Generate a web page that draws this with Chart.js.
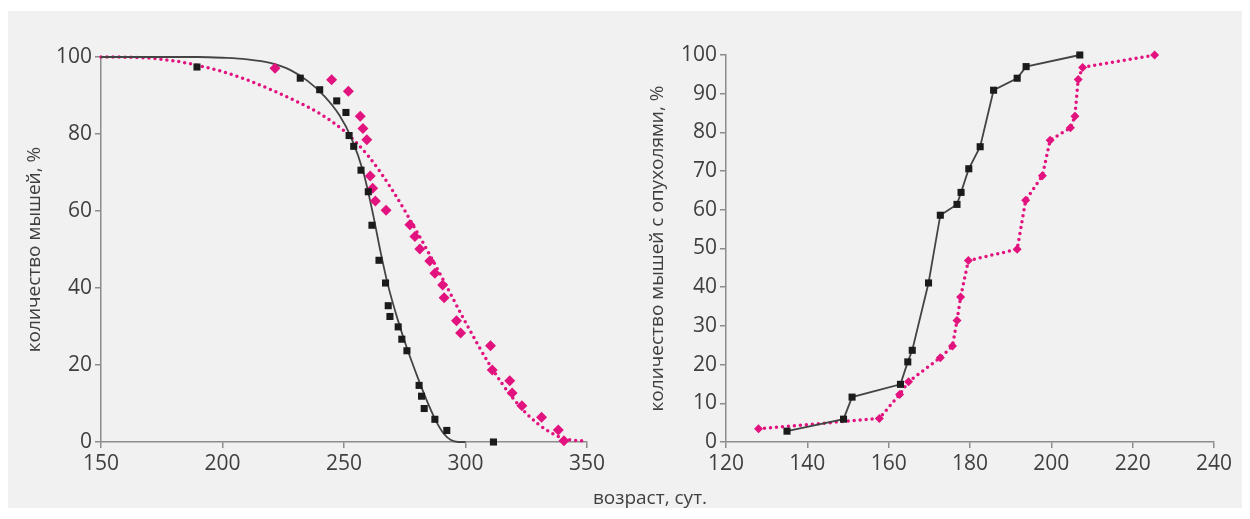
<!DOCTYPE html>
<html lang="ru">
<head>
<meta charset="utf-8">
<title>Выживаемость мышей и возникновение опухолей</title>
<script src="https://cdn.jsdelivr.net/npm/chart.js@4.4.1/dist/chart.umd.min.js"></script>
<style>
  html, body { margin: 0; padding: 0; background: #fff; width: 1250px; height: 519px; overflow: hidden; }
  #panel { position: absolute; left: 8px; top: 11px; width: 1234px; height: 497px; background: #f1f1f1; }
  .box { position: absolute; top: 0; height: 519px; }
  #leftBox { left: 0; width: 620px; }
  #rightBox { left: 620px; width: 630px; }
  #xTitle { position: absolute; left: 450px; width: 400px; top: 485px; text-align: center;
            font: 19px 'Open Sans', sans-serif; line-height: 24px; color: #404040; }
</style>
</head>
<body>
<div id="panel"></div>
<div class="box" id="leftBox"><canvas id="survival"></canvas></div>
<div class="box" id="rightBox"><canvas id="tumors"></canvas></div>
<div id="xTitle">возраст, сут.</div>

<script>
// survival: observed points (black = control, pink = treated)
const ctrlAge  = [189.5, 232, 240, 247, 250.8, 252.1, 254, 257, 260, 261.5, 264.4, 267.1, 268.2, 268.9, 272.3, 273.8, 275.9, 280.9, 281.9, 283, 287.4, 292.3, 311.5];
const ctrlSurv = [97.4, 94.5, 91.5, 88.6, 85.6, 79.6, 76.8, 70.6, 65.0, 56.3, 47.2, 41.3, 35.4, 32.6, 29.9, 26.7, 23.7, 14.7, 11.9, 8.7, 5.9, 3.0, 0];
const trtAge   = [221.6, 244.9, 251.8, 256.7, 257.8, 259.4, 260.8, 261.8, 262.9, 267.3, 277.1, 279.2, 281.2, 285.3, 287.4, 290.6, 291.2, 296.3, 298.0, 310.3, 311.0, 318.2, 319.2, 323.2, 331.3, 338.2, 340.5];
const trtSurv  = [97.1, 94.1, 91.1, 84.6, 81.4, 78.5, 69.1, 65.9, 62.6, 60.2, 56.4, 53.4, 50.1, 47.0, 43.8, 40.8, 37.5, 31.5, 28.3, 25.0, 18.7, 15.9, 12.7, 9.4, 6.4, 3.1, 0.3];

// survival: fitted curves
const ctrlFitAge  = [150, 190, 200, 210, 220, 228, 235, 242, 248, 253, 258, 262, 265, 268, 272, 276, 280, 284, 288, 291, 294, 297, 300];
const ctrlFitSurv = [100, 100, 99.8, 99.4, 98.4, 96.6, 93.8, 89.8, 85.0, 79.0, 70.0, 59.0, 49.5, 41.0, 32.0, 24.2, 17.3, 10.9, 5.3, 2.2, 0.5, 0, 0];
const trtFitAge   = [150, 160, 170, 180, 190, 200, 210, 220, 230, 240, 250, 260, 270, 280, 290, 300, 310, 320, 330, 340, 350];
const trtFitSurv  = [100, 99.95, 99.7, 99.0, 97.8, 96.2, 94.1, 91.5, 88.6, 85.3, 80.8, 74.3, 65.3, 54.6, 43.1, 31.1, 20.0, 11.0, 4.6, 1.0, 0.2];

// tumour incidence
const ctrlOnsetAge = [135, 148.9, 151, 162.9, 164.7, 165.8, 169.8, 172.7, 176.8, 177.8, 179.7, 182.5, 185.8, 191.6, 193.8, 207];
const ctrlOnsetPct = [2.8, 5.9, 11.6, 14.9, 20.7, 23.7, 41.1, 58.6, 61.4, 64.5, 70.6, 76.3, 90.9, 94.0, 97.0, 100];
const trtOnsetAge  = [128, 157.7, 162.7, 164.9, 172.7, 175.7, 176.8, 177.7, 179.6, 191.6, 193.7, 197.8, 199.7, 204.7, 205.8, 206.6, 207.7, 225.4];
const trtOnsetPct  = [3.4, 6.1, 12.3, 15.6, 21.8, 24.8, 31.4, 37.5, 46.9, 49.8, 62.5, 68.8, 78.0, 81.2, 84.2, 93.7, 96.8, 100];

// axis ranges [min, max, step]
const survXRange  = [150, 350, 50];
const survYRange  = [0, 100, 20];
const tumorXRange = [120, 240, 20];
const tumorYRange = [0, 100, 10];

const INK = '#1b1b1b';
const LINE_INK = '#444';
const PINK = '#e2137f';
const AXIS = '#8c8c8c';
const LABEL = '#3f3f3f';
const FONT = "'Open Sans', sans-serif";

function pairs(xs, ys) {
  return xs.map((x, i) => ({ x, y: ys[i] }));
}

function axis(range, fit) {
  return {
    type: 'linear',
    min: range[0], max: range[1],
    border: { color: AXIS, width: 1.5 },
    grid: { drawOnChartArea: false, color: AXIS, lineWidth: 1.5, tickLength: 6 },
    ticks: { stepSize: range[2], color: LABEL, font: { family: FONT, size: 21 }, padding: 3, maxRotation: 0 },
    afterFit: fit,
  };
}

function yTitle(text, pad) {
  return { display: true, text, color: LABEL, font: { family: FONT, size: 19 }, padding: { top: pad, bottom: 0 } };
}

const squares = (data) => ({
  data, showLine: false, clip: false,
  pointStyle: 'rect', pointRadius: 5, pointHoverRadius: 5,
  backgroundColor: INK, borderColor: INK, borderWidth: 0,
});
const diamonds = (data, r) => ({
  data, showLine: false, clip: false,
  pointStyle: 'rectRot', pointRadius: r, pointHoverRadius: r,
  backgroundColor: PINK, borderColor: PINK, borderWidth: 0,
});
const solid = (data, extra) => ({
  data, showLine: true, clip: false, pointRadius: 0,
  borderColor: LINE_INK, borderWidth: 1.8, ...extra,
});
const dotted = (data, extra) => ({
  data, showLine: true, clip: false, pointRadius: 0,
  borderColor: PINK, borderWidth: 3.5, borderDash: [0, 6], borderCapStyle: 'round', ...extra,
});

const BASE = {
  responsive: true,
  maintainAspectRatio: false,
  animation: false,
  events: [],
  plugins: { legend: { display: false }, tooltip: { enabled: false } },
};

new Chart(document.getElementById('survival'), {
  type: 'scatter',
  data: {
    datasets: [
      squares(pairs(ctrlAge, ctrlSurv)),
      diamonds(pairs(trtAge, trtSurv), 5.5),
      solid(pairs(ctrlFitAge, ctrlFitSurv), { cubicInterpolationMode: 'monotone' }),
      dotted(pairs(trtFitAge, trtFitSurv), { cubicInterpolationMode: 'monotone' }),
    ],
  },
  options: {
    ...BASE,
    layout: { padding: { top: 57, right: 33, bottom: 0, left: 0 } },
    scales: {
      x: axis(survXRange, s => { s.height = 77; }),
      y: { ...axis(survYRange, s => { s.width = 101; }), title: yTitle('количество мышей, %', 23) },
    },
  },
});

new Chart(document.getElementById('tumors'), {
  type: 'scatter',
  data: {
    datasets: [
      squares(pairs(ctrlOnsetAge, ctrlOnsetPct)),
      diamonds(pairs(trtOnsetAge, trtOnsetPct), 4.5),
      solid(pairs(ctrlOnsetAge, ctrlOnsetPct)),
      dotted(pairs(trtOnsetAge, trtOnsetPct)),
    ],
  },
  options: {
    ...BASE,
    layout: { padding: { top: 55, right: 36, bottom: 0, left: 0 } },
    scales: {
      x: axis(tumorXRange, s => { s.height = 77; }),
      y: { ...axis(tumorYRange, s => { s.width = 106; }), title: yTitle('количество мышей с опухолями, %', 26) },
    },
  },
});
</script>
</body>
</html>
